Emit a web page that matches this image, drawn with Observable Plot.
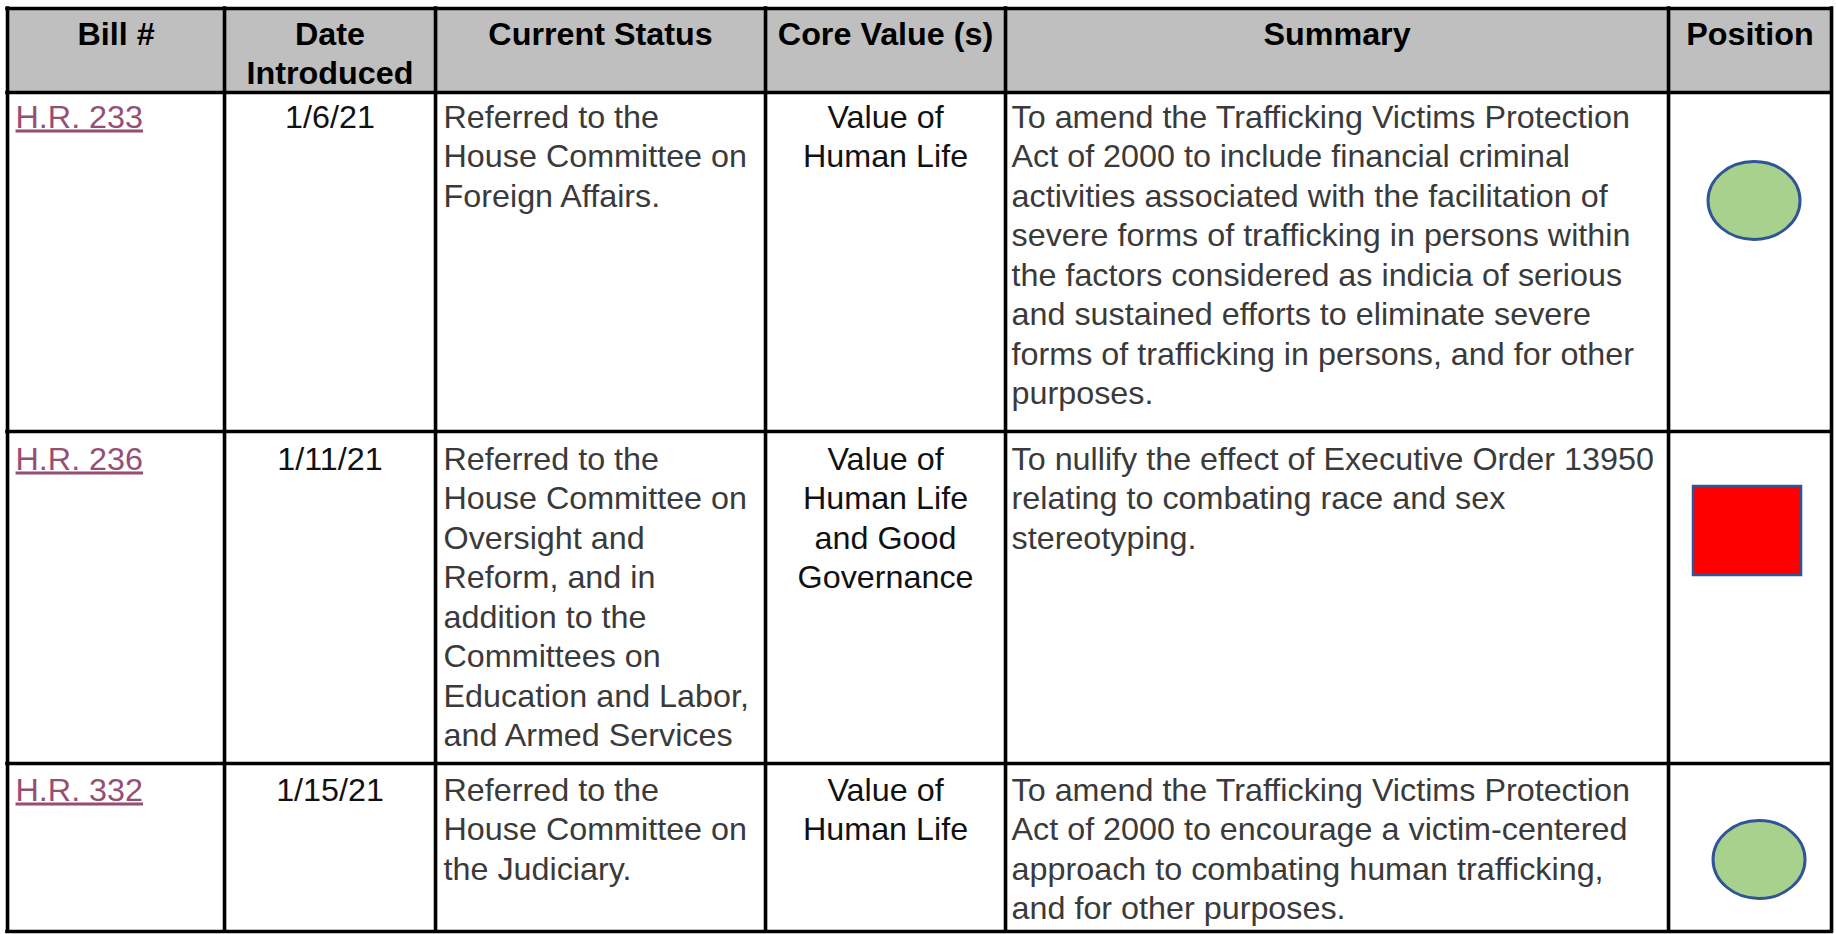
<!DOCTYPE html>
<html>
<head>
<meta charset="utf-8">
<script src="https://cdn.jsdelivr.net/npm/d3@7"></script>
<script src="https://cdn.jsdelivr.net/npm/@observablehq/plot@0.6"></script>
<style>
  html, body { margin: 0; padding: 0; background: #fff; }
  #chart svg { display: block; }
</style>
</head>
<body>
<div id="chart"></div>
<script>
// ---------- DATA ----------
const headers = ["Bill #", "Date\nIntroduced", "Current Status", "Core Value (s)", "Summary", "Position"];
const bills = ["H.R. 233", "H.R. 236", "H.R. 332"];
const dates = ["1/6/21", "1/11/21", "1/15/21"];
const statuses = [
  "Referred to the\nHouse Committee on\nForeign Affairs.",
  "Referred to the\nHouse Committee on\nOversight and\nReform, and in\naddition to the\nCommittees on\nEducation and Labor,\nand Armed Services",
  "Referred to the\nHouse Committee on\nthe Judiciary."
];
const coreValues = [
  "Value of\nHuman Life",
  "Value of\nHuman Life\nand Good\nGovernance",
  "Value of\nHuman Life"
];
const summaries = [
  "To amend the Trafficking Victims Protection\nAct of 2000 to include financial criminal\nactivities associated with the facilitation of\nsevere forms of trafficking in persons within\nthe factors considered as indicia of serious\nand sustained efforts to eliminate severe\nforms of trafficking in persons, and for other\npurposes.",
  "To nullify the effect of Executive Order 13950\nrelating to combating race and sex\nstereotyping.",
  "To amend the Trafficking Victims Protection\nAct of 2000 to encourage a victim-centered\napproach to combating human trafficking,\nand for other purposes."
];
const positions = ["support", "oppose", "support"];

// ---------- LAYOUT (table geometry, in final pixels) ----------
const W = 1836, H = 934;
const sx = 1.06;                       // horizontal stretch of the original picture
const colEdges = [7, 224, 435, 765, 1005, 1668, 1831];
const rowEdges = [8, 92, 431, 763, 931];
const textPadTop = [7, 10, 9];
const shapeOffset = [108, 99, 96];
const shapeDx = [4, -3, 9];
const padLeft = [8, 0, 8, 0, 6];
const fontSize = 30.5;
const lineHeight = 39.5 / fontSize;
const font = "'Liberation Sans', Arial, Helvetica, sans-serif";
const linkColor = "#954F72";
const bodyColor = "#3A3A3A";
const headerFill = "#BFBFBF";
const gridColor = "#000000";

// ---------- TABLE BUILD ----------
const nCols = headers.length;
const colCenter = c => (colEdges[c] + colEdges[c + 1]) / 2;
const headerCells = headers.map((h, c) => ({text: h, x: colCenter(c), y: rowEdges[0] + 9}));

const cells = [];
bills.forEach((b, r) => {
  const top = rowEdges[r + 1] + textPadTop[r];
  cells.push({kind: "link", text: b, x: colEdges[0] + padLeft[0], y: top});
  cells.push({kind: "center", text: dates[r], x: colCenter(1), y: top});
  cells.push({kind: "left", text: statuses[r], x: colEdges[2] + padLeft[2], y: top});
  cells.push({kind: "center", text: coreValues[r], x: colCenter(3), y: top});
  cells.push({kind: "left", text: summaries[r], x: colEdges[4] + padLeft[4], y: top});
});
const shapes = positions.map((p, r) => ({pos: p, x: colCenter(5) + shapeDx[r], y: rowEdges[r + 1] + shapeOffset[r]}));

// custom symbols (drawn in unstretched units, so divide widths by sx)
const K = 0.5522847498;
const ellipseSymbol = {
  draw(ctx, size) {
    const r = Math.sqrt(size / Math.PI);
    const rx = r / sx, ry = r * 78 / 92;
    ctx.moveTo(rx, 0);
    ctx.bezierCurveTo(rx, ry * K, rx * K, ry, 0, ry);
    ctx.bezierCurveTo(-rx * K, ry, -rx, ry * K, -rx, 0);
    ctx.bezierCurveTo(-rx, -ry * K, -rx * K, -ry, 0, -ry);
    ctx.bezierCurveTo(rx * K, -ry, rx, -ry * K, rx, 0);
    ctx.closePath();
  }
};
const rectSymbol = {
  draw(ctx, size) {
    const r = Math.sqrt(size / Math.PI);
    const hw = r / sx, hh = r * 89 / 108;
    ctx.moveTo(-hw, -hh);
    ctx.lineTo(hw, -hh);
    ctx.lineTo(hw, hh);
    ctx.lineTo(-hw, hh);
    ctx.closePath();
  }
};

const Wd = W / sx;
const plot = Plot.plot({
  width: Wd,
  height: H,
  margin: 0,
  x: {type: "linear", domain: [0, W], range: [0, Wd], axis: null},
  y: {type: "linear", domain: [0, H], range: [0, H], axis: null},
  style: {fontFamily: font, background: "#fff", overflow: "visible"},
  marks: [
    // header background
    Plot.rect([0], {x1: colEdges[0], x2: colEdges[nCols], y1: rowEdges[0], y2: rowEdges[1], fill: headerFill}),
    // header labels
    Plot.text(headerCells, {
      x: "x", y: "y", text: "text", textAnchor: "middle", lineAnchor: "top",
      fontFamily: font, fontSize, fontWeight: "bold", lineHeight: 39 / fontSize, fill: "#000"
    }),
    // body text
    Plot.text(cells.filter(d => d.kind === "left"), {
      x: "x", y: "y", text: "text", textAnchor: "start", lineAnchor: "top",
      fontFamily: font, fontSize, lineHeight, fill: bodyColor
    }),
    Plot.text(cells.filter(d => d.kind === "center"), {
      x: "x", y: "y", text: "text", textAnchor: "middle", lineAnchor: "top",
      fontFamily: font, fontSize, lineHeight, fill: "#111"
    }),
    Plot.text(cells.filter(d => d.kind === "link"), {
      x: "x", y: "y", text: "text", textAnchor: "start", lineAnchor: "top",
      fontFamily: font, fontSize, lineHeight, fill: linkColor
    }),
    // position shapes
    Plot.dot(shapes.filter(d => d.pos === "support"), {
      x: "x", y: "y", r: 46, symbol: ellipseSymbol,
      fill: "#A9D18E", stroke: "#2F5597", strokeWidth: 2.8
    }),
    Plot.dot(shapes.filter(d => d.pos === "oppose"), {
      x: "x", y: "y", r: 54, symbol: rectSymbol,
      fill: "#FF0000", stroke: "#2F5597", strokeWidth: 2.4
    }),
    // grid lines
    Plot.ruleX(colEdges, {x: d => d, y1: rowEdges[0], y2: rowEdges[rowEdges.length - 1], stroke: gridColor, strokeWidth: 3.4, strokeLinecap: "square"}),
    Plot.ruleY(rowEdges, {y: d => d, x1: colEdges[0], x2: colEdges[nCols], stroke: gridColor, strokeWidth: 3.4, strokeLinecap: "square"})
  ]
});

// stretch horizontally to the final picture size
plot.setAttribute("width", W);
plot.setAttribute("height", H);
plot.setAttribute("preserveAspectRatio", "none");
plot.style.width = W + "px";
plot.style.height = H + "px";
plot.style.maxWidth = "none";

// underline the hyperlink-style bill numbers
d3.select(plot).selectAll("g").filter(function () {
  return this.getAttribute("fill") === linkColor;
}).style("text-decoration", "underline").style("text-decoration-thickness", "2.5px");

document.getElementById("chart").appendChild(plot);
</script>
</body>
</html>
